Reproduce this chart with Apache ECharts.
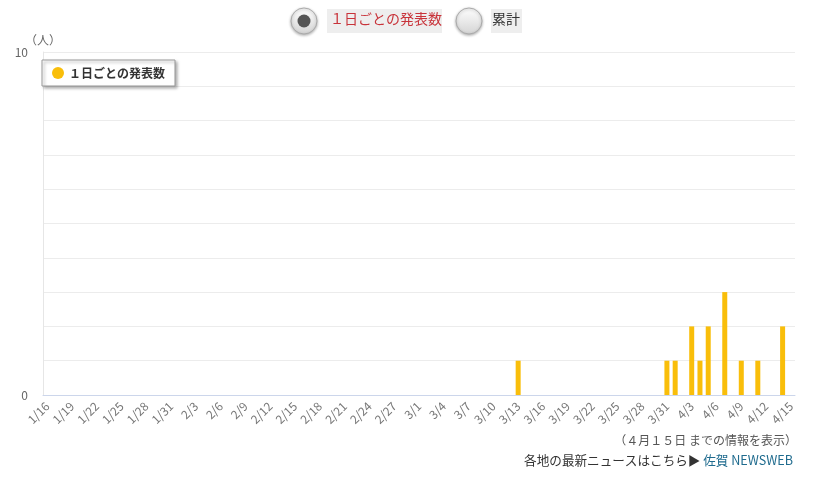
<!DOCTYPE html>
<html><head><meta charset="utf-8">
<script src="https://cdn.jsdelivr.net/npm/echarts@6/dist/echarts.min.js"></script>
<style>html,body{margin:0;padding:0;background:#fff}#c{width:831px;height:481px}</style>
</head><body><div id="c"></div>
<script>
const dates = [
 '1/16','1/17','1/18','1/19','1/20','1/21','1/22','1/23','1/24','1/25','1/26','1/27','1/28','1/29','1/30','1/31',
 '2/1','2/2','2/3','2/4','2/5','2/6','2/7','2/8','2/9','2/10','2/11','2/12','2/13','2/14','2/15','2/16','2/17','2/18','2/19','2/20','2/21','2/22','2/23','2/24','2/25','2/26','2/27','2/28','2/29',
 '3/1','3/2','3/3','3/4','3/5','3/6','3/7','3/8','3/9','3/10','3/11','3/12','3/13','3/14','3/15','3/16','3/17','3/18','3/19','3/20','3/21','3/22','3/23','3/24','3/25','3/26','3/27','3/28','3/29','3/30','3/31',
 '4/1','4/2','4/3','4/4','4/5','4/6','4/7','4/8','4/9','4/10','4/11','4/12','4/13','4/14','4/15'
];
const daily = [
 0,0,0,0,0,0,0,0,0,0,0,0,0,0,0,0,
 0,0,0,0,0,0,0,0,0,0,0,0,0,0,0,0,0,0,0,0,0,0,0,0,0,0,0,0,0,
 0,0,0,0,0,0,0,0,0,0,0,0,1,0,0,0,0,0,0,0,0,0,0,0,0,0,0,0,0,0,1,
 1,0,2,1,2,0,3,0,1,0,1,0,0,2,0
];
const seriesName = '１日ごとの発表数';
const yTickLabels = ['0','10'];
const yUnit = '（人）';
const FONT = "'Noto Sans CJK JP', 'Noto Sans', sans-serif";

const chart = echarts.init(document.getElementById('c'));
chart.setOption({
  animation: false,
  textStyle: { fontFamily: FONT },
  grid: { left: 43, right: 36, top: 52, bottom: 86 },
  legend: {
    left: 42, top: 60,
    data: [seriesName],
    icon: 'circle', itemWidth: 12, itemHeight: 12, itemGap: 10,
    padding: [7, 10, 7, 10],
    backgroundColor: '#fff',
    borderColor: '#999', borderWidth: 1, borderRadius: 0,
    shadowColor: 'rgba(0,0,0,0.35)', shadowBlur: 3, shadowOffsetX: 2, shadowOffsetY: 2,
    textStyle: { fontSize: 12, fontWeight: 'bold', color: '#333', fontFamily: FONT }
  },
  xAxis: {
    type: 'category', data: dates, boundaryGap: true,
    axisLine: { lineStyle: { color: '#ccd6eb' } },
    axisTick: { alignWithLabel: true, interval: 2, length: 6, lineStyle: { color: '#ccd6eb' } },
    axisLabel: { interval: 2, rotate: 45, fontSize: 12, color: '#777', margin: 9, fontFamily: FONT }
  },
  yAxis: {
    type: 'value', min: 0, max: 10, interval: 1,
    name: yUnit, nameLocation: 'end', nameGap: 10,
    nameTextStyle: { color: '#666', fontSize: 12, align: 'center', verticalAlign: 'middle', fontFamily: FONT },
    axisLine: { show: true, lineStyle: { color: '#e6e6e6' } },
    axisTick: { show: false },
    splitLine: { lineStyle: { color: '#ececec' } },
    axisLabel: {
      color: '#666', fontSize: 12, margin: 15, fontFamily: FONT,
      formatter: v => yTickLabels.includes(String(v)) ? String(v) : ''
    }
  },
  series: [{
    name: seriesName, type: 'bar', data: daily,
    barWidth: 5,
    itemStyle: { color: '#F9BE0A' }
  }],
  graphic: [
    { type: 'circle', shape: { cx: 304, cy: 21, r: 13 },
      style: { fill: new echarts.graphic.LinearGradient(0,0,0,1,[{offset:0,color:'#ffffff'},{offset:1,color:'#d4d4d4'}]),
               stroke: '#aaa', lineWidth: 1, shadowBlur: 3, shadowColor: 'rgba(0,0,0,0.3)', shadowOffsetY: 1 } },
    { type: 'circle', shape: { cx: 304, cy: 21, r: 6.5 }, style: { fill: '#555' } },
    { type: 'rect', shape: { x: 327, y: 9, width: 115, height: 24 }, style: { fill: '#eeeeee' } },
    { type: 'text', left: 330, top: 12, style: { text: '１日ごとの発表数', fill: '#c8333a', font: '14px ' + FONT } },
    { type: 'circle', shape: { cx: 469, cy: 21, r: 13 },
      style: { fill: new echarts.graphic.LinearGradient(0,0,0,1,[{offset:0,color:'#ffffff'},{offset:1,color:'#d4d4d4'}]),
               stroke: '#aaa', lineWidth: 1, shadowBlur: 3, shadowColor: 'rgba(0,0,0,0.3)', shadowOffsetY: 1 } },
    { type: 'rect', shape: { x: 491, y: 9, width: 31, height: 24 }, style: { fill: '#eeeeee' } },
    { type: 'text', left: 492, top: 12, style: { text: '累計', fill: '#333', font: '14px ' + FONT } },
    { type: 'text', right: 34, top: 434, style: { text: '（４月１５日 までの情報を表示）', fill: '#555', font: '12px ' + FONT, textAlign: 'right' } },
    { type: 'text', right: 38, top: 454, style: {
        text: '{a|各地の最新ニュースはこちら▶ }{b|佐賀 NEWSWEB}',
        rich: { a: { fill: '#333', font: '12.6px ' + FONT }, b: { fill: '#1f6b8e', font: '12.6px ' + FONT } } } }
  ]
});
</script>
</body></html>
